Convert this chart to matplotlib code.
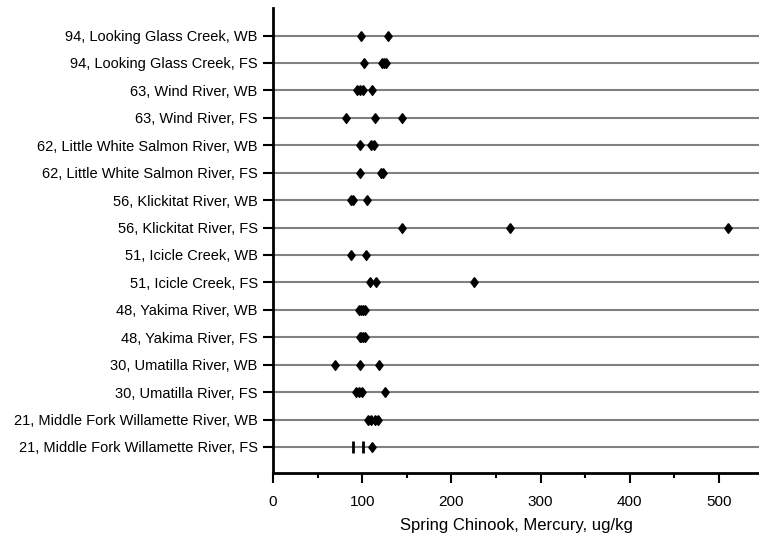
import numpy as np
import matplotlib.pyplot as plt

plt.rcParams['font.family'] = ['Liberation Sans', 'DejaVu Sans']

# category labels, top to bottom
labels = [
    "94, Looking Glass Creek, WB",
    "94, Looking Glass Creek, FS",
    "63, Wind River, WB",
    "63, Wind River, FS",
    "62, Little White Salmon River, WB",
    "62, Little White Salmon River, FS",
    "56, Klickitat River, WB",
    "56, Klickitat River, FS",
    "51, Icicle Creek, WB",
    "51, Icicle Creek, FS",
    "48, Yakima River, WB",
    "48, Yakima River, FS",
    "30, Umatilla River, WB",
    "30, Umatilla River, FS",
    "21, Middle Fork Willamette River, WB",
    "21, Middle Fork Willamette River, FS",
]

# mercury values (ug/kg) per category, diamond markers
mercury = [
    [99, 129],
    [102, 122, 125, 127],
    [94, 97, 101, 111],
    [82, 114, 145],
    [98, 110, 113],
    [98, 121, 123],
    [87, 90, 105],
    [145, 266, 510],
    [87, 104],
    [109, 115, 225],
    [96, 99, 101, 103],
    [97, 99, 101, 103],
    [70, 98, 119],
    [93, 96, 100, 126],
    [106, 110, 114, 118],
    [111],
]
# values shown as bars instead of diamonds (last category)
bar_values = [90, 101]

ypos = np.arange(len(labels), 0, -1)

# tall diamond marker
diamond = [(0, 1), (0.75, 0), (0, -1), (-0.75, 0), (0, 1)]

fig = plt.figure(figsize=(7.59, 5.39), dpi=100)
ax = fig.add_axes([0.3597, 0.1224, 0.6403, 0.8626])

for y in ypos:
    ax.axhline(y, color='#808080', lw=1.5, zorder=1)

for y, vals in zip(ypos, mercury):
    ax.plot(vals, [y] * len(vals), linestyle='none', marker=diamond, ms=7,
            color='black', zorder=3)
ax.plot(bar_values, [ypos[-1]] * len(bar_values), linestyle='none',
        marker='|', ms=8, mew=2, color='black', zorder=3)

ax.set_xlim(0, 545)
ax.set_ylim(0.05, len(labels) + 1)
ax.set_yticks(ypos)
ax.set_yticklabels(labels, fontsize=10.5)
ax.set_xticks([0, 100, 200, 300, 400, 500])
ax.set_xticks([50, 150, 250, 350, 450], minor=True)
ax.tick_params(axis='x', which='major', direction='out', length=7, width=1.5,
               labelsize=11, pad=8.5)
ax.tick_params(axis='x', which='minor', direction='out', length=3.5, width=1.5)
ax.tick_params(axis='y', direction='out', length=7, width=1.5, pad=4)
ax.set_xlabel("Spring Chinook, Mercury, ug/kg", fontsize=12, labelpad=7)

for s in ['top', 'right']:
    ax.spines[s].set_visible(False)
for s in ['left', 'bottom']:
    ax.spines[s].set_linewidth(2)

fig.savefig("out.png", dpi=100)
